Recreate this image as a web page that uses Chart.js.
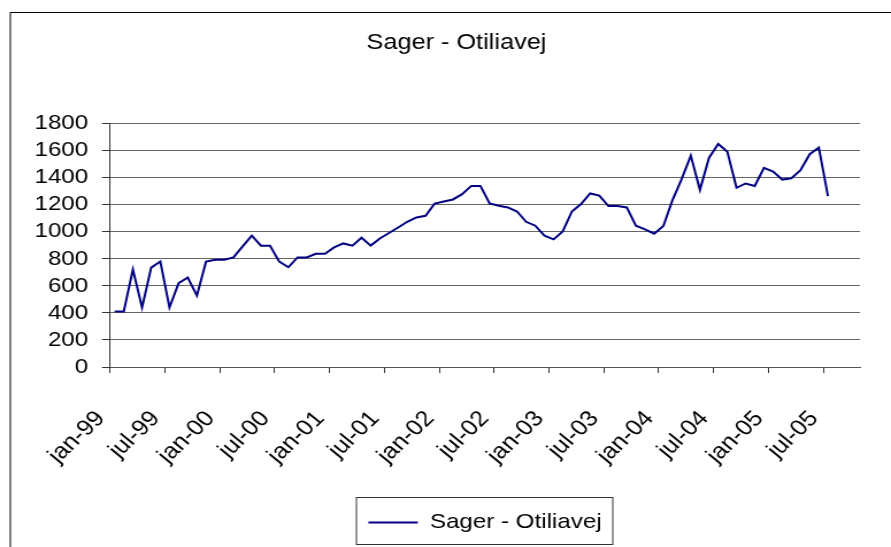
<!DOCTYPE html>
<html>
<head>
<meta charset="utf-8">
<script src="https://cdn.jsdelivr.net/npm/chart.js@4"></script>
<style>
    html, body { margin: 0; padding: 0; background: white; }
</style>
</head>
<body>
<!-- canvas is drawn 775 wide and shown 891 wide: the original
     chart has its text stretched sideways the same way -->
<canvas id="sagerChart" width="775" height="547" style="width:891px;height:547px;display:block;"></canvas>
<script>

/*
    Sager - Otiliavej, monthly count jan-99 .. jul-05
*/

Chart.defaults.font.size = 21;
Chart.defaults.font.family = "'Liberation Sans', Arial, sans-serif";
Chart.defaults.color = 'black';


// month categories (axis runs on a few empty months past jul-05)

var months = [
    'jan-99', 'feb-99', 'mar-99', 'apr-99', 'maj-99', 'jun-99', 'jul-99', 'aug-99', 'sep-99', 'okt-99', 'nov-99', 'dec-99',
    'jan-00', 'feb-00', 'mar-00', 'apr-00', 'maj-00', 'jun-00', 'jul-00', 'aug-00', 'sep-00', 'okt-00', 'nov-00', 'dec-00',
    'jan-01', 'feb-01', 'mar-01', 'apr-01', 'maj-01', 'jun-01', 'jul-01', 'aug-01', 'sep-01', 'okt-01', 'nov-01', 'dec-01',
    'jan-02', 'feb-02', 'mar-02', 'apr-02', 'maj-02', 'jun-02', 'jul-02', 'aug-02', 'sep-02', 'okt-02', 'nov-02', 'dec-02',
    'jan-03', 'feb-03', 'mar-03', 'apr-03', 'maj-03', 'jun-03', 'jul-03', 'aug-03', 'sep-03', 'okt-03', 'nov-03', 'dec-03',
    'jan-04', 'feb-04', 'mar-04', 'apr-04', 'maj-04', 'jun-04', 'jul-04', 'aug-04', 'sep-04', 'okt-04', 'nov-04', 'dec-04',
    'jan-05', 'feb-05', 'mar-05', 'apr-05', 'maj-05', 'jun-05', 'jul-05', 'aug-05', 'sep-05', 'okt-05'];

var sager = [
    410, 410, 720, 440, 734, 779, 440, 619, 661, 528,
    779, 793, 793, 810, 891, 970, 896, 896, 779, 737,
    810, 810, 837, 837, 884, 913, 896, 955, 897, 950,
    990, 1031, 1073, 1105, 1117, 1208, 1223, 1238, 1277, 1338,
    1338, 1208, 1191, 1179, 1149, 1073, 1044, 970, 943, 1002,
    1149, 1204, 1282, 1267, 1189, 1189, 1179, 1044, 1017, 985,
    1042, 1233, 1388, 1562, 1309, 1547, 1648, 1591, 1324, 1356,
    1338, 1471, 1444, 1385, 1395, 1454, 1572, 1621, 1263];

var series_name = 'Sager - Otiliavej';
var y_min = 0;
var y_max = 1800;
var y_step = 200;
var label_every = 6;



// frame round the chart and the legend, title moved a bit right

var frames = {
    id: 'frames',
    afterLayout: function(chart) {
        var t = chart.titleBlock;
        if (t) {
            t.left = 46;
            t.right = chart.chartArea.right;}
    },
    afterDraw: function(chart) {
        var ctx = chart.ctx;
        ctx.save();
        ctx.strokeStyle = '#000';
        ctx.lineWidth = 1;
        ctx.strokeRect(9, 12.5, 900, 600);

        var hit = chart.legend.legendHitBoxes[0];
        if (hit) {
            ctx.strokeStyle = '#333';
            ctx.strokeRect(
                Math.round(hit.left - 10),
                Math.round(hit.top - 15) + 0.5,
                Math.round(hit.width + 20),
                47);}
        ctx.restore();
    },
};


var ctx = document.getElementById('sagerChart').getContext('2d');

var chart_object = new Chart(ctx, {
    type: 'line',

    data: {
        labels: months,
        datasets: [{
            label: series_name,
            data: sager,
            borderColor: '#000080',
            backgroundColor: '#000080',
            borderWidth: 2,
            pointRadius: 0,
            tension: 0,},],},

    options: {
        responsive: false,
        animation: false,
        layout: {padding: {left: 0, right: 27, top: 0, bottom: 4,},},

        scales: {
            x: {
                type: 'category',
                offset: true,
                border: {color: '#555', width: 1,},
                grid: {
                    offset: true,
                    drawOnChartArea: false,
                    tickLength: 6,
                    tickColor: function(c) {
                        return (c.index % label_every === 0) ? '#333' : 'rgba(0,0,0,0)';},},
                ticks: {
                    autoSkip: false,
                    minRotation: 47,
                    maxRotation: 47,
                    padding: 33,
                    labelOffset: -12,
                    color: 'black',
                    font: {size: 22,},
                    callback: function(value, index) {
                        return (index % label_every === 0) ? months[index] : '';},},
                afterFit: function(scale) {
                    scale.height = 135;
                    scale.paddingRight = 0;},},
            y: {
                min: y_min,
                max: y_max,
                border: {color: '#333', width: 1,},
                grid: {
                    color: '#666',
                    tickLength: 7,
                    tickColor: '#333',},
                ticks: {
                    stepSize: y_step,
                    autoSkip: false,
                    padding: 12,
                    color: 'black',
                    callback: function(value) { return String(value); },},
                afterFit: function(scale) { scale.width = 95.7; },},
        },

        plugins: {
            title: {
                display: true,
                text: series_name,
                color: 'black',
                font: {size: 22, weight: 'normal',},
                padding: {top: 30, bottom: 67,},},

            legend: {
                display: true,
                position: 'bottom',
                fullSize: false,
                labels: {
                    usePointStyle: true,
                    pointStyle: 'line',
                    pointStyleWidth: 43,
                    padding: 10,
                    color: 'black',
                    font: {size: 21,},},},

            tooltip: {enabled: false,},},
    },
    plugins: [frames],
});

</script>
</body>
</html>
